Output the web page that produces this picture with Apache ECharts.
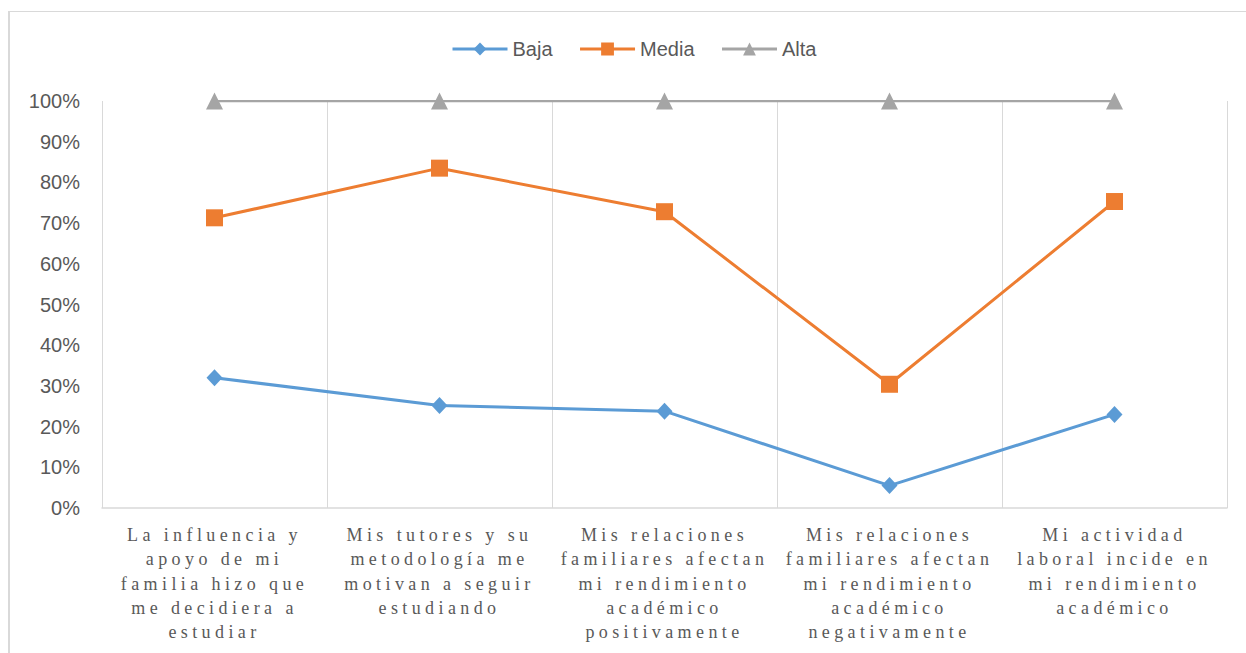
<!DOCTYPE html>
<html>
<head>
<meta charset="utf-8">
<script src="https://cdn.jsdelivr.net/npm/echarts@6/dist/echarts.min.js"></script>
<style>
  html, body { margin: 0; padding: 0; background: #fff; }
  #chart { width: 1246px; height: 653px; }
  #chart text[style*="Serif"], #chart text[font-family*="Serif"] { letter-spacing: 4.4px; }
</style>
</head>
<body>
<div id="chart"></div>
<script>
const categories = [
  "La influencia y\napoyo de mi\nfamilia hizo que\nme decidiera a\nestudiar",
  "Mis tutores y su\nmetodología me\nmotivan a seguir\nestudiando",
  "Mis relaciones\nfamiliares afectan\nmi rendimiento\nacadémico\npositivamente",
  "Mis relaciones\nfamiliares afectan\nmi rendimiento\nacadémico\nnegativamente",
  "Mi actividad\nlaboral incide en\nmi rendimiento\nacadémico"
];
const baja = [32.0, 25.2, 23.8, 5.5, 23.0];
const media = [71.3, 83.5, 72.8, 30.4, 75.3];
const alta = [100, 100, 100, 100, 100];
const yTicks = { min: 0, max: 100, interval: 10 };

const chart = echarts.init(document.getElementById('chart'), null, { renderer: 'svg' });
const sans = 'Liberation Sans';
chart.setOption({
  animation: false,
  backgroundColor: '#ffffff',
  graphic: [
    { type: 'line', shape: { x1: 8, y1: 11.5, x2: 1246, y2: 11.5 }, style: { stroke: '#D9D9D9', lineWidth: 1 } },
    { type: 'line', shape: { x1: 9, y1: 11, x2: 9, y2: 653 }, style: { stroke: '#D9D9D9', lineWidth: 2 } }
  ],
  legend: {
    left: 446,
    top: 34,
    itemWidth: 55,
    itemHeight: 16,
    itemGap: 26,
    lineStyle: { width: 3 },
    textStyle: { fontFamily: sans, fontSize: 20, color: '#595959' },
    data: ['Baja', 'Media', 'Alta']
  },
  grid: { left: 102, right: 19, top: 101, bottom: 145, containLabel: false },
  xAxis: {
    type: 'category',
    data: categories,
    boundaryGap: true,
    axisTick: { show: false },
    axisLine: { lineStyle: { color: '#D9D9D9', width: 1.5 } },
    splitLine: { show: true, lineStyle: { color: '#D9D9D9', width: 1 } },
    axisLabel: {
      interval: 0,
      margin: 15,
      fontFamily: 'Liberation Serif',
      fontSize: 18,
      lineHeight: 24.3,
      color: '#595959',
      align: 'center'
    }
  },
  yAxis: {
    type: 'value',
    min: yTicks.min,
    max: yTicks.max,
    interval: yTicks.interval,
    axisLine: { show: false },
    axisTick: { show: false },
    splitLine: { show: false },
    axisLabel: {
      margin: 22,
      fontFamily: sans,
      fontSize: 20,
      color: '#595959',
      formatter: '{value}%'
    }
  },
  series: [
    {
      name: 'Baja', type: 'line', data: baja,
      symbol: 'diamond', symbolSize: [16, 17],
      itemStyle: { color: '#5B9BD5' },
      lineStyle: { color: '#5B9BD5', width: 3 }
    },
    {
      name: 'Media', type: 'line', data: media,
      symbol: 'rect', symbolSize: 17,
      itemStyle: { color: '#ED7D31' },
      lineStyle: { color: '#ED7D31', width: 3 }
    },
    {
      name: 'Alta', type: 'line', data: alta,
      symbol: 'triangle', symbolSize: 17,
      itemStyle: { color: '#A5A5A5' },
      lineStyle: { color: '#A5A5A5', width: 2.25 }
    }
  ]
});
</script>
</body>
</html>
